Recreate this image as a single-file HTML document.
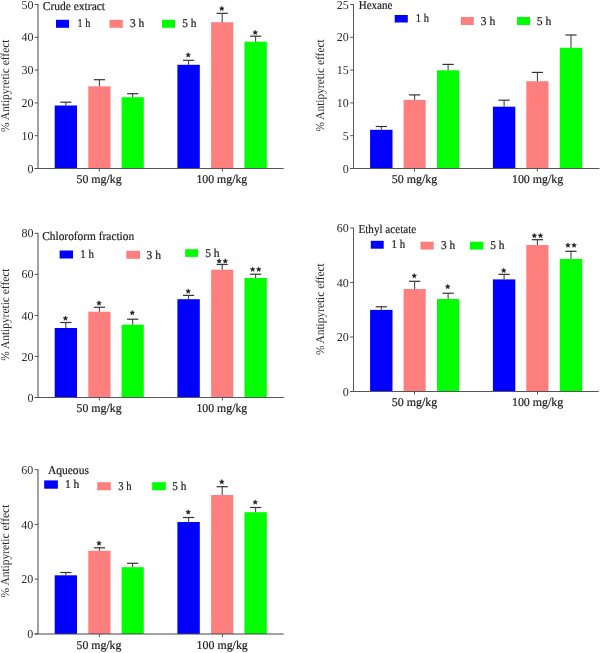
<!DOCTYPE html>
<html><head><meta charset="utf-8"><style>
html,body{margin:0;padding:0;background:#fff;}
svg{display:block;will-change:transform;}
text{font-family:"Liberation Serif",serif;fill:#222;stroke:#222;stroke-width:0.2px;text-rendering:geometricPrecision;}
text.tk{stroke:none;fill:#2a2a2a;}
</style></head><body>
<svg width="600" height="653" viewBox="0 0 600 653">
<rect width="600" height="653" fill="#fff"/>
<rect x="54.7" y="105.5" width="22.3" height="63.0" fill="#0000FF"/>
<line x1="65.85" y1="102.2" x2="65.85" y2="105.5" stroke="#333" stroke-width="1"/>
<line x1="60.25" y1="102.2" x2="71.45" y2="102.2" stroke="#333" stroke-width="1.2"/>
<rect x="88.3" y="86.3" width="22.2" height="82.2" fill="#FF7F7F"/>
<line x1="99.4" y1="79.7" x2="99.4" y2="86.3" stroke="#333" stroke-width="1"/>
<line x1="93.8" y1="79.7" x2="105" y2="79.7" stroke="#333" stroke-width="1.2"/>
<rect x="121.6" y="97.2" width="22.2" height="71.3" fill="#00FF00"/>
<line x1="132.7" y1="93.7" x2="132.7" y2="97.2" stroke="#333" stroke-width="1"/>
<line x1="127.1" y1="93.7" x2="138.3" y2="93.7" stroke="#333" stroke-width="1.2"/>
<rect x="177.4" y="64.8" width="22.4" height="103.7" fill="#0000FF"/>
<line x1="188.6" y1="60.3" x2="188.6" y2="64.8" stroke="#333" stroke-width="1"/>
<line x1="183" y1="60.3" x2="194.2" y2="60.3" stroke="#333" stroke-width="1.2"/>
<polygon points="188.20,52.58 187.55,54.14 185.87,54.28 187.15,55.37 186.76,57.02 188.20,56.13 189.64,57.02 189.25,55.37 190.53,54.28 188.85,54.14" fill="#222" stroke="#222" stroke-width="0.5" stroke-linejoin="round"/>
<rect x="211.1" y="22.2" width="22.2" height="146.3" fill="#FF7F7F"/>
<line x1="222.2" y1="13.3" x2="222.2" y2="22.2" stroke="#333" stroke-width="1"/>
<line x1="216.6" y1="13.3" x2="227.8" y2="13.3" stroke="#333" stroke-width="1.2"/>
<polygon points="221.80,6.18 221.15,7.74 219.47,7.88 220.75,8.97 220.36,10.62 221.80,9.73 223.24,10.62 222.85,8.97 224.13,7.88 222.45,7.74" fill="#222" stroke="#222" stroke-width="0.5" stroke-linejoin="round"/>
<rect x="244.5" y="41.7" width="22.3" height="126.8" fill="#00FF00"/>
<line x1="255.65" y1="36.2" x2="255.65" y2="41.7" stroke="#333" stroke-width="1"/>
<line x1="250.05" y1="36.2" x2="261.25" y2="36.2" stroke="#333" stroke-width="1.2"/>
<polygon points="255.25,30.13 254.60,31.69 252.92,31.83 254.20,32.92 253.81,34.57 255.25,33.68 256.69,34.57 256.30,32.92 257.58,31.83 255.90,31.69" fill="#222" stroke="#222" stroke-width="0.5" stroke-linejoin="round"/>
<line x1="38" y1="4" x2="38" y2="168.5" stroke="#444" stroke-width="1"/>
<line x1="34.7" y1="4.5" x2="38" y2="4.5" stroke="#555" stroke-width="1"/>
<text class="tk" x="21.46" y="8.63" font-size="12">50</text>
<line x1="34.7" y1="37.3" x2="38" y2="37.3" stroke="#555" stroke-width="1"/>
<text class="tk" x="21.46" y="41.43" font-size="12">40</text>
<line x1="34.7" y1="70.1" x2="38" y2="70.1" stroke="#555" stroke-width="1"/>
<text class="tk" x="21.46" y="74.23" font-size="12">30</text>
<line x1="34.7" y1="102.9" x2="38" y2="102.9" stroke="#555" stroke-width="1"/>
<text class="tk" x="21.46" y="107.03" font-size="12">20</text>
<line x1="34.7" y1="135.7" x2="38" y2="135.7" stroke="#555" stroke-width="1"/>
<text class="tk" x="21.46" y="139.83" font-size="12">10</text>
<line x1="34.7" y1="168.5" x2="38" y2="168.5" stroke="#555" stroke-width="1"/>
<text class="tk" x="27.46" y="172.63" font-size="12">0</text>
<line x1="34.5" y1="168.5" x2="283.8" y2="168.5" stroke="#555" stroke-width="1"/>
<line x1="99.3" y1="168.5" x2="99.3" y2="171.5" stroke="#555" stroke-width="1"/>
<line x1="222.4" y1="168.5" x2="222.4" y2="171.5" stroke="#555" stroke-width="1"/>
<text x="76.51" y="182.79999999999998" font-size="12" textLength="45.21" lengthAdjust="spacingAndGlyphs">50 mg/kg</text>
<text x="196.46" y="182.9" font-size="12" textLength="50.76" lengthAdjust="spacingAndGlyphs">100 mg/kg</text>
<text x="42.73" y="9.6" font-size="12" textLength="62.34" lengthAdjust="spacingAndGlyphs">Crude extract</text>
<rect x="56" y="19.8" width="13" height="8.0" fill="#0000FF"/>
<text x="77.60" y="26.7" font-size="12" textLength="12.73" lengthAdjust="spacingAndGlyphs">1 h</text>
<rect x="109.5" y="19.8" width="13.3" height="8.0" fill="#FF7F7F"/>
<text x="129.95" y="26.7" font-size="12" textLength="14.40" lengthAdjust="spacingAndGlyphs">3 h</text>
<rect x="162" y="19.8" width="13" height="8.0" fill="#00FF00"/>
<text x="182.14" y="26.7" font-size="12" textLength="14.31" lengthAdjust="spacingAndGlyphs">5 h</text>
<text class="tk" transform="translate(9,131.6) rotate(-90)" x="-0.39" y="0" font-size="12" textLength="92.45" lengthAdjust="spacingAndGlyphs">% Antipyretic effect</text>
<rect x="370.1" y="129.8" width="22.4" height="38.7" fill="#0000FF"/>
<line x1="381.3" y1="126.5" x2="381.3" y2="129.8" stroke="#333" stroke-width="1"/>
<line x1="375.7" y1="126.5" x2="386.9" y2="126.5" stroke="#333" stroke-width="1.2"/>
<rect x="403.6" y="99.9" width="22.1" height="68.6" fill="#FF7F7F"/>
<line x1="414.65" y1="94.9" x2="414.65" y2="99.9" stroke="#333" stroke-width="1"/>
<line x1="409.05" y1="94.9" x2="420.25" y2="94.9" stroke="#333" stroke-width="1.2"/>
<rect x="437" y="70.3" width="22.2" height="98.2" fill="#00FF00"/>
<line x1="448.1" y1="64.4" x2="448.1" y2="70.3" stroke="#333" stroke-width="1"/>
<line x1="442.5" y1="64.4" x2="453.7" y2="64.4" stroke="#333" stroke-width="1.2"/>
<rect x="492.9" y="106.7" width="22.4" height="61.8" fill="#0000FF"/>
<line x1="504.1" y1="100.2" x2="504.1" y2="106.7" stroke="#333" stroke-width="1"/>
<line x1="498.5" y1="100.2" x2="509.7" y2="100.2" stroke="#333" stroke-width="1.2"/>
<rect x="526.3" y="81.2" width="22.2" height="87.3" fill="#FF7F7F"/>
<line x1="537.4" y1="72.4" x2="537.4" y2="81.2" stroke="#333" stroke-width="1"/>
<line x1="531.8" y1="72.4" x2="543" y2="72.4" stroke="#333" stroke-width="1.2"/>
<rect x="559.8" y="47.8" width="22.4" height="120.7" fill="#00FF00"/>
<line x1="571" y1="35" x2="571" y2="47.8" stroke="#333" stroke-width="1"/>
<line x1="565.4" y1="35" x2="576.6" y2="35" stroke="#333" stroke-width="1.2"/>
<line x1="353.5" y1="4" x2="353.5" y2="168.5" stroke="#555" stroke-width="1"/>
<line x1="350.2" y1="4.5" x2="353.5" y2="4.5" stroke="#555" stroke-width="1"/>
<text class="tk" x="336.67" y="8.61" font-size="12">25</text>
<line x1="350.2" y1="37.3" x2="353.5" y2="37.3" stroke="#555" stroke-width="1"/>
<text class="tk" x="336.66" y="41.43" font-size="12">20</text>
<line x1="350.2" y1="70.1" x2="353.5" y2="70.1" stroke="#555" stroke-width="1"/>
<text class="tk" x="336.67" y="74.20" font-size="12">15</text>
<line x1="350.2" y1="102.9" x2="353.5" y2="102.9" stroke="#555" stroke-width="1"/>
<text class="tk" x="336.66" y="107.03" font-size="12">10</text>
<line x1="350.2" y1="135.7" x2="353.5" y2="135.7" stroke="#555" stroke-width="1"/>
<text class="tk" x="342.67" y="139.77" font-size="12">5</text>
<line x1="350.2" y1="168.5" x2="353.5" y2="168.5" stroke="#555" stroke-width="1"/>
<text class="tk" x="342.66" y="172.63" font-size="12">0</text>
<line x1="350" y1="168.5" x2="599.5" y2="168.5" stroke="#555" stroke-width="1"/>
<line x1="414.5" y1="168.5" x2="414.5" y2="171.5" stroke="#555" stroke-width="1"/>
<line x1="537.3" y1="168.5" x2="537.3" y2="171.5" stroke="#555" stroke-width="1"/>
<text x="391.81" y="183.0" font-size="12" textLength="45.41" lengthAdjust="spacingAndGlyphs">50 mg/kg</text>
<text x="511.95" y="182.9" font-size="12" textLength="51.27" lengthAdjust="spacingAndGlyphs">100 mg/kg</text>
<text x="358.68" y="8.7" font-size="12" textLength="33.70" lengthAdjust="spacingAndGlyphs">Hexane</text>
<rect x="394.7" y="15" width="13.1" height="7.5" fill="#0000FF"/>
<text x="415.77" y="22" font-size="12" textLength="13.16" lengthAdjust="spacingAndGlyphs">1 h</text>
<rect x="460.8" y="17" width="13.0" height="8" fill="#FF7F7F"/>
<text x="480.75" y="24.5" font-size="12" textLength="14.40" lengthAdjust="spacingAndGlyphs">3 h</text>
<rect x="517" y="17" width="13" height="8" fill="#00FF00"/>
<text x="536.83" y="24.5" font-size="12" textLength="14.53" lengthAdjust="spacingAndGlyphs">5 h</text>
<text class="tk" transform="translate(324.3,131.1) rotate(-90)" x="-0.39" y="0" font-size="12" textLength="92.15" lengthAdjust="spacingAndGlyphs">% Antipyretic effect</text>
<rect x="54.7" y="328" width="22.3" height="69.5" fill="#0000FF"/>
<line x1="65.85" y1="322.5" x2="65.85" y2="328" stroke="#333" stroke-width="1"/>
<line x1="60.25" y1="322.5" x2="71.45" y2="322.5" stroke="#333" stroke-width="1.2"/>
<polygon points="65.45,315.88 64.80,317.44 63.12,317.58 64.40,318.67 64.01,320.32 65.45,319.43 66.89,320.32 66.50,318.67 67.78,317.58 66.10,317.44" fill="#222" stroke="#222" stroke-width="0.5" stroke-linejoin="round"/>
<rect x="88.3" y="311.7" width="22.2" height="85.8" fill="#FF7F7F"/>
<line x1="99.4" y1="307.25" x2="99.4" y2="311.7" stroke="#333" stroke-width="1"/>
<line x1="93.8" y1="307.25" x2="105" y2="307.25" stroke="#333" stroke-width="1.2"/>
<polygon points="99.00,300.78 98.35,302.34 96.67,302.48 97.95,303.57 97.56,305.22 99.00,304.33 100.44,305.22 100.05,303.57 101.33,302.48 99.65,302.34" fill="#222" stroke="#222" stroke-width="0.5" stroke-linejoin="round"/>
<rect x="121.6" y="324.7" width="22.2" height="72.8" fill="#00FF00"/>
<line x1="132.7" y1="319.2" x2="132.7" y2="324.7" stroke="#333" stroke-width="1"/>
<line x1="127.1" y1="319.2" x2="138.3" y2="319.2" stroke="#333" stroke-width="1.2"/>
<polygon points="132.30,310.38 131.65,311.94 129.97,312.08 131.25,313.17 130.86,314.82 132.30,313.93 133.74,314.82 133.35,313.17 134.63,312.08 132.95,311.94" fill="#222" stroke="#222" stroke-width="0.5" stroke-linejoin="round"/>
<rect x="177.4" y="299.2" width="22.4" height="98.3" fill="#0000FF"/>
<line x1="188.6" y1="295.4" x2="188.6" y2="299.2" stroke="#333" stroke-width="1"/>
<line x1="183" y1="295.4" x2="194.2" y2="295.4" stroke="#333" stroke-width="1.2"/>
<polygon points="188.20,288.88 187.55,290.44 185.87,290.58 187.15,291.67 186.76,293.32 188.20,292.43 189.64,293.32 189.25,291.67 190.53,290.58 188.85,290.44" fill="#222" stroke="#222" stroke-width="0.5" stroke-linejoin="round"/>
<rect x="211.1" y="269.7" width="22.2" height="127.8" fill="#FF7F7F"/>
<line x1="222.2" y1="264.45" x2="222.2" y2="269.7" stroke="#333" stroke-width="1"/>
<line x1="216.6" y1="264.45" x2="227.8" y2="264.45" stroke="#333" stroke-width="1.2"/>
<polygon points="219.15,258.68 218.50,260.24 216.82,260.38 218.10,261.47 217.71,263.12 219.15,262.23 220.59,263.12 220.20,261.47 221.48,260.38 219.80,260.24" fill="#222" stroke="#222" stroke-width="0.5" stroke-linejoin="round"/>
<polygon points="225.25,258.68 224.60,260.24 222.92,260.38 224.20,261.47 223.81,263.12 225.25,262.23 226.69,263.12 226.30,261.47 227.58,260.38 225.90,260.24" fill="#222" stroke="#222" stroke-width="0.5" stroke-linejoin="round"/>
<rect x="244.5" y="278" width="22.3" height="119.5" fill="#00FF00"/>
<line x1="255.65" y1="274.2" x2="255.65" y2="278" stroke="#333" stroke-width="1"/>
<line x1="250.05" y1="274.2" x2="261.25" y2="274.2" stroke="#333" stroke-width="1.2"/>
<polygon points="252.60,266.98 251.95,268.54 250.27,268.68 251.55,269.77 251.16,271.42 252.60,270.53 254.04,271.42 253.65,269.77 254.93,268.68 253.25,268.54" fill="#222" stroke="#222" stroke-width="0.5" stroke-linejoin="round"/>
<polygon points="258.70,266.98 258.05,268.54 256.37,268.68 257.65,269.77 257.26,271.42 258.70,270.53 260.14,271.42 259.75,269.77 261.03,268.68 259.35,268.54" fill="#222" stroke="#222" stroke-width="0.5" stroke-linejoin="round"/>
<line x1="38" y1="232.8" x2="38" y2="397.5" stroke="#444" stroke-width="1"/>
<line x1="34.7" y1="233.3" x2="38" y2="233.3" stroke="#555" stroke-width="1"/>
<text class="tk" x="21.46" y="237.43" font-size="12">80</text>
<line x1="34.7" y1="274.35" x2="38" y2="274.35" stroke="#555" stroke-width="1"/>
<text class="tk" x="21.46" y="278.48" font-size="12">60</text>
<line x1="34.7" y1="315.4" x2="38" y2="315.4" stroke="#555" stroke-width="1"/>
<text class="tk" x="21.46" y="319.53" font-size="12">40</text>
<line x1="34.7" y1="356.45" x2="38" y2="356.45" stroke="#555" stroke-width="1"/>
<text class="tk" x="21.46" y="360.58" font-size="12">20</text>
<line x1="34.7" y1="397.5" x2="38" y2="397.5" stroke="#555" stroke-width="1"/>
<text class="tk" x="27.46" y="401.63" font-size="12">0</text>
<line x1="34.5" y1="397.5" x2="283.8" y2="397.5" stroke="#555" stroke-width="1"/>
<line x1="99.3" y1="397.5" x2="99.3" y2="400.5" stroke="#555" stroke-width="1"/>
<line x1="222.4" y1="397.5" x2="222.4" y2="400.5" stroke="#555" stroke-width="1"/>
<text x="76.51" y="412.1" font-size="12" textLength="45.21" lengthAdjust="spacingAndGlyphs">50 mg/kg</text>
<text x="196.46" y="412.1" font-size="12" textLength="50.76" lengthAdjust="spacingAndGlyphs">100 mg/kg</text>
<text x="42.23" y="240" font-size="12" textLength="91.94" lengthAdjust="spacingAndGlyphs">Chloroform fraction</text>
<rect x="59.6" y="250.5" width="13.4" height="8.0" fill="#0000FF"/>
<text x="80.34" y="258.3" font-size="12" textLength="13.60" lengthAdjust="spacingAndGlyphs">1 h</text>
<rect x="126.3" y="250.8" width="13.7" height="8.0" fill="#FF7F7F"/>
<text x="146.44" y="258.5" font-size="12" textLength="14.51" lengthAdjust="spacingAndGlyphs">3 h</text>
<rect x="185.2" y="249.2" width="12.8" height="7.7" fill="#00FF00"/>
<text x="205.13" y="256.7" font-size="12" textLength="14.53" lengthAdjust="spacingAndGlyphs">5 h</text>
<text class="tk" transform="translate(9,360.4) rotate(-90)" x="-0.39" y="0" font-size="12" textLength="92.25" lengthAdjust="spacingAndGlyphs">% Antipyretic effect</text>
<rect x="370.1" y="309.9" width="22.4" height="81.6" fill="#0000FF"/>
<line x1="381.3" y1="306.8" x2="381.3" y2="309.9" stroke="#333" stroke-width="1"/>
<line x1="375.7" y1="306.8" x2="386.9" y2="306.8" stroke="#333" stroke-width="1.2"/>
<rect x="403.6" y="289" width="22.1" height="102.5" fill="#FF7F7F"/>
<line x1="414.65" y1="281.3" x2="414.65" y2="289" stroke="#333" stroke-width="1"/>
<line x1="409.05" y1="281.3" x2="420.25" y2="281.3" stroke="#333" stroke-width="1.2"/>
<polygon points="414.25,273.38 413.60,274.94 411.92,275.08 413.20,276.17 412.81,277.82 414.25,276.93 415.69,277.82 415.30,276.17 416.58,275.08 414.90,274.94" fill="#222" stroke="#222" stroke-width="0.5" stroke-linejoin="round"/>
<rect x="437" y="299" width="22.2" height="92.5" fill="#00FF00"/>
<line x1="448.1" y1="293.25" x2="448.1" y2="299" stroke="#333" stroke-width="1"/>
<line x1="442.5" y1="293.25" x2="453.7" y2="293.25" stroke="#333" stroke-width="1.2"/>
<polygon points="447.70,284.28 447.05,285.84 445.37,285.98 446.65,287.07 446.26,288.72 447.70,287.83 449.14,288.72 448.75,287.07 450.03,285.98 448.35,285.84" fill="#222" stroke="#222" stroke-width="0.5" stroke-linejoin="round"/>
<rect x="492.9" y="279.4" width="22.4" height="112.1" fill="#0000FF"/>
<line x1="504.1" y1="274.3" x2="504.1" y2="279.4" stroke="#333" stroke-width="1"/>
<line x1="498.5" y1="274.3" x2="509.7" y2="274.3" stroke="#333" stroke-width="1.2"/>
<polygon points="503.70,268.13 503.05,269.69 501.37,269.83 502.65,270.92 502.26,272.57 503.70,271.68 505.14,272.57 504.75,270.92 506.03,269.83 504.35,269.69" fill="#222" stroke="#222" stroke-width="0.5" stroke-linejoin="round"/>
<rect x="526.3" y="245" width="22.2" height="146.5" fill="#FF7F7F"/>
<line x1="537.4" y1="239.7" x2="537.4" y2="245" stroke="#333" stroke-width="1"/>
<line x1="531.8" y1="239.7" x2="543" y2="239.7" stroke="#333" stroke-width="1.2"/>
<polygon points="534.35,233.28 533.70,234.84 532.02,234.98 533.30,236.07 532.91,237.72 534.35,236.83 535.79,237.72 535.40,236.07 536.68,234.98 535.00,234.84" fill="#222" stroke="#222" stroke-width="0.5" stroke-linejoin="round"/>
<polygon points="540.45,233.28 539.80,234.84 538.12,234.98 539.40,236.07 539.01,237.72 540.45,236.83 541.89,237.72 541.50,236.07 542.78,234.98 541.10,234.84" fill="#222" stroke="#222" stroke-width="0.5" stroke-linejoin="round"/>
<rect x="559.8" y="259" width="22.4" height="132.5" fill="#00FF00"/>
<line x1="571" y1="251.3" x2="571" y2="259" stroke="#333" stroke-width="1"/>
<line x1="565.4" y1="251.3" x2="576.6" y2="251.3" stroke="#333" stroke-width="1.2"/>
<polygon points="567.95,242.88 567.30,244.44 565.62,244.58 566.90,245.67 566.51,247.32 567.95,246.43 569.39,247.32 569.00,245.67 570.28,244.58 568.60,244.44" fill="#222" stroke="#222" stroke-width="0.5" stroke-linejoin="round"/>
<polygon points="574.05,242.88 573.40,244.44 571.72,244.58 573.00,245.67 572.61,247.32 574.05,246.43 575.49,247.32 575.10,245.67 576.38,244.58 574.70,244.44" fill="#222" stroke="#222" stroke-width="0.5" stroke-linejoin="round"/>
<line x1="353.5" y1="227.5" x2="353.5" y2="391.5" stroke="#555" stroke-width="1"/>
<line x1="350.2" y1="228" x2="353.5" y2="228" stroke="#555" stroke-width="1"/>
<text class="tk" x="336.66" y="232.13" font-size="12">60</text>
<line x1="350.2" y1="282.5" x2="353.5" y2="282.5" stroke="#555" stroke-width="1"/>
<text class="tk" x="336.66" y="286.63" font-size="12">40</text>
<line x1="350.2" y1="337" x2="353.5" y2="337" stroke="#555" stroke-width="1"/>
<text class="tk" x="336.66" y="341.13" font-size="12">20</text>
<line x1="350.2" y1="391.5" x2="353.5" y2="391.5" stroke="#555" stroke-width="1"/>
<text class="tk" x="342.66" y="395.63" font-size="12">0</text>
<line x1="350" y1="391.5" x2="598.7" y2="391.5" stroke="#555" stroke-width="1"/>
<line x1="414.5" y1="391.5" x2="414.5" y2="394.5" stroke="#555" stroke-width="1"/>
<line x1="537.5" y1="391.5" x2="537.5" y2="394.5" stroke="#555" stroke-width="1"/>
<text x="391.81" y="406.3" font-size="12" textLength="45.41" lengthAdjust="spacingAndGlyphs">50 mg/kg</text>
<text x="511.95" y="406.3" font-size="12" textLength="51.27" lengthAdjust="spacingAndGlyphs">100 mg/kg</text>
<text x="358.48" y="232.7" font-size="12" textLength="57.70" lengthAdjust="spacingAndGlyphs">Ethyl acetate</text>
<rect x="370.8" y="240.8" width="12.9" height="7.9" fill="#0000FF"/>
<text x="391.54" y="248" font-size="12" textLength="13.60" lengthAdjust="spacingAndGlyphs">1 h</text>
<rect x="420.5" y="241.7" width="13.2" height="7.9" fill="#FF7F7F"/>
<text x="440.96" y="249.3" font-size="12" textLength="14.19" lengthAdjust="spacingAndGlyphs">3 h</text>
<rect x="470" y="241.7" width="13.3" height="7.9" fill="#00FF00"/>
<text x="490.14" y="249.3" font-size="12" textLength="14.31" lengthAdjust="spacingAndGlyphs">5 h</text>
<text class="tk" transform="translate(324.2,354.7) rotate(-90)" x="-0.39" y="0" font-size="12" textLength="91.85" lengthAdjust="spacingAndGlyphs">% Antipyretic effect</text>
<rect x="54.7" y="575.3" width="22.3" height="58.7" fill="#0000FF"/>
<line x1="65.85" y1="572.5" x2="65.85" y2="575.3" stroke="#333" stroke-width="1"/>
<line x1="60.25" y1="572.5" x2="71.45" y2="572.5" stroke="#333" stroke-width="1.2"/>
<rect x="88.3" y="550.8" width="22.2" height="83.2" fill="#FF7F7F"/>
<line x1="99.4" y1="547.8" x2="99.4" y2="550.8" stroke="#333" stroke-width="1"/>
<line x1="93.8" y1="547.8" x2="105" y2="547.8" stroke="#333" stroke-width="1.2"/>
<polygon points="99.00,540.83 98.35,542.39 96.67,542.53 97.95,543.62 97.56,545.27 99.00,544.38 100.44,545.27 100.05,543.62 101.33,542.53 99.65,542.39" fill="#222" stroke="#222" stroke-width="0.5" stroke-linejoin="round"/>
<rect x="121.6" y="567.2" width="22.2" height="66.8" fill="#00FF00"/>
<line x1="132.7" y1="563.3" x2="132.7" y2="567.2" stroke="#333" stroke-width="1"/>
<line x1="127.1" y1="563.3" x2="138.3" y2="563.3" stroke="#333" stroke-width="1.2"/>
<rect x="177.4" y="522" width="22.4" height="112" fill="#0000FF"/>
<line x1="188.6" y1="517.5" x2="188.6" y2="522" stroke="#333" stroke-width="1"/>
<line x1="183" y1="517.5" x2="194.2" y2="517.5" stroke="#333" stroke-width="1.2"/>
<polygon points="188.20,509.73 187.55,511.29 185.87,511.43 187.15,512.52 186.76,514.17 188.20,513.28 189.64,514.17 189.25,512.52 190.53,511.43 188.85,511.29" fill="#222" stroke="#222" stroke-width="0.5" stroke-linejoin="round"/>
<rect x="211.1" y="495" width="22.2" height="139" fill="#FF7F7F"/>
<line x1="222.2" y1="486.7" x2="222.2" y2="495" stroke="#333" stroke-width="1"/>
<line x1="216.6" y1="486.7" x2="227.8" y2="486.7" stroke="#333" stroke-width="1.2"/>
<polygon points="221.80,479.48 221.15,481.04 219.47,481.18 220.75,482.27 220.36,483.92 221.80,483.03 223.24,483.92 222.85,482.27 224.13,481.18 222.45,481.04" fill="#222" stroke="#222" stroke-width="0.5" stroke-linejoin="round"/>
<rect x="244.5" y="512.2" width="22.3" height="121.8" fill="#00FF00"/>
<line x1="255.65" y1="507.5" x2="255.65" y2="512.2" stroke="#333" stroke-width="1"/>
<line x1="250.05" y1="507.5" x2="261.25" y2="507.5" stroke="#333" stroke-width="1.2"/>
<polygon points="255.25,499.88 254.60,501.44 252.92,501.58 254.20,502.67 253.81,504.32 255.25,503.43 256.69,504.32 256.30,502.67 257.58,501.58 255.90,501.44" fill="#222" stroke="#222" stroke-width="0.5" stroke-linejoin="round"/>
<line x1="38" y1="469.2" x2="38" y2="634" stroke="#444" stroke-width="1"/>
<line x1="34.7" y1="469.7" x2="38" y2="469.7" stroke="#555" stroke-width="1"/>
<text class="tk" x="21.36" y="473.83" font-size="12">60</text>
<line x1="34.7" y1="524.4" x2="38" y2="524.4" stroke="#555" stroke-width="1"/>
<text class="tk" x="21.36" y="528.53" font-size="12">40</text>
<line x1="34.7" y1="579.1" x2="38" y2="579.1" stroke="#555" stroke-width="1"/>
<text class="tk" x="21.36" y="583.23" font-size="12">20</text>
<line x1="34.7" y1="633.8" x2="38" y2="633.8" stroke="#555" stroke-width="1"/>
<text class="tk" x="27.36" y="637.93" font-size="12">0</text>
<line x1="34.5" y1="634" x2="283.6" y2="634" stroke="#444" stroke-width="1"/>
<line x1="99.4" y1="634" x2="99.4" y2="637" stroke="#555" stroke-width="1"/>
<line x1="222.4" y1="634" x2="222.4" y2="637" stroke="#555" stroke-width="1"/>
<text x="76.52" y="648.8000000000001" font-size="12" textLength="44.90" lengthAdjust="spacingAndGlyphs">50 mg/kg</text>
<text x="196.55" y="648.8000000000001" font-size="12" textLength="51.27" lengthAdjust="spacingAndGlyphs">100 mg/kg</text>
<text x="47.88" y="473.5" font-size="12" textLength="41.03" lengthAdjust="spacingAndGlyphs">Aqueous</text>
<rect x="44.2" y="480.4" width="13.7" height="8.3" fill="#0000FF"/>
<text x="64.99" y="487.8" font-size="12" textLength="14.36" lengthAdjust="spacingAndGlyphs">1 h</text>
<rect x="97.2" y="482.2" width="13.6" height="8.1" fill="#FF7F7F"/>
<text x="118.19" y="490" font-size="12" textLength="13.25" lengthAdjust="spacingAndGlyphs">3 h</text>
<rect x="152.2" y="482.2" width="13.6" height="8.1" fill="#00FF00"/>
<text x="172.35" y="490" font-size="12" textLength="14.10" lengthAdjust="spacingAndGlyphs">5 h</text>
<text class="tk" transform="translate(9,597) rotate(-90)" x="-0.39" y="0" font-size="12" textLength="92.75" lengthAdjust="spacingAndGlyphs">% Antipyretic effect</text>
</svg></body></html>
